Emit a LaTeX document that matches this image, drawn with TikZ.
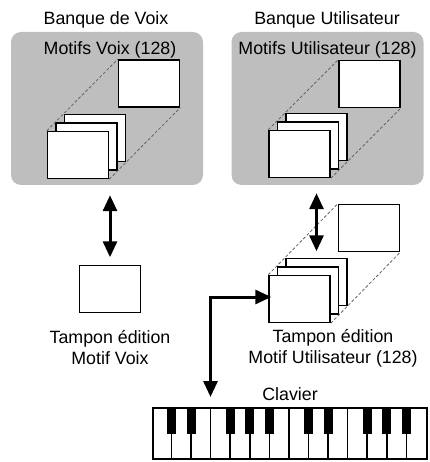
\documentclass[tikz,border=0pt]{standalone}
\usepackage{fontspec}
\setmainfont{Liberation Sans}
\usetikzlibrary{arrows.meta}
\definecolor{bankgray}{RGB}{190,190,190}
\definecolor{dashgray}{RGB}{100,100,100}

\begin{document}
\begin{tikzpicture}[x=1pt,y=-1pt,
	bank/.style={fill=bankgray, rounded corners=10pt, minimum width=192pt, minimum height=153pt, inner sep=0pt},
	motif/.style={draw, line width=1.5pt, fill=white, minimum width=61pt, minimum height=47pt, inner sep=0pt},
	guide/.style={dashgray, dash pattern=on 3pt off 2pt, line width=0.8pt},
	label/.style={font=\fontsize{17.8}{21}\selectfont, inner sep=0pt, anchor=base, align=center},
	bigarrow/.style={line width=3pt, {Triangle[length=16pt,width=14pt]}-{Triangle[length=16pt,width=14pt]}}]
	\useasboundingbox (0,0) rectangle (429,462);
	% banks
	\node[bank] (bankV) at (107,108.5) {};
	\node[bank] (bankU) at (327.5,108.5) {};
	\node[label] (titleV) at (106,25) {Banque de Voix};
	\node[label] (titleU) at (327,25) {Banque Utilisateur};
	\node[label] (motifsV) at (110,55) {Motifs Voix (128)};
	\node[label] (motifsU) at (327.5,55) {Motifs Utilisateur (128)};
	% voice patterns
	\node[motif] (singleV) at (149,83.5) {};
	\node[motif] (stackV3) at (95,138) {};
	\node[motif] (stackV2) at (86.5,146.5) {};
	\node[motif] (stackV1) at (78,155) {};
	\draw[guide] (stackV1.north west) -- (singleV.north west);
	\draw[guide] (stackV1.south east) -- (singleV.south east);
	% user patterns
	\node[motif] (singleU) at (369.5,84) {};
	\node[motif] (stackU3) at (316.5,137) {};
	\node[motif] (stackU2) at (308,145.5) {};
	\node[motif] (stackU1) at (299.5,154) {};
	\draw[guide] (stackU1.north west) -- (singleU.north west);
	\draw[guide] (stackU1.south east) -- (singleU.south east);
	% edit buffers
	\node[motif] (tamponV) at (110,289) {};
	\node[label, anchor=center] (tamponVtext) at (110,348) {Tampon édition\\Motif Voix};
	\node[motif] (tamponUs) at (369,228) {};
	\node[motif] (tamponU3) at (316.5,282) {};
	\node[motif] (tamponU2) at (308,290.5) {};
	\node[motif] (tamponU1) at (299.5,299) {};
	\draw[guide] (tamponU1.north west) -- (tamponUs.north west);
	\draw[guide] (tamponU1.south east) -- (tamponUs.south east);
	\node[label, anchor=center] (tamponUtext) at (333,348) {Tampon édition\\Motif Utilisateur (128)};
	% keyboard
	\node[label] (clavier) at (290,400) {Clavier};
	\node[draw, line width=2.2pt, minimum width=274pt, minimum height=51pt, inner sep=0pt] (kbd) at (290,433.5) {};
	\foreach \k in {1,...,13}
		\draw[line width=1.5pt] ([xshift={\k*19.571pt}]kbd.north west) -- ([xshift={\k*19.571pt}]kbd.south west);
	\foreach \k in {1,2,4,5,6,8,9,11,12,13}
		\fill ([xshift={\k*19.571pt-4.5pt}]kbd.north west) rectangle ([xshift={\k*19.571pt+4.5pt},yshift=-27pt]kbd.north west);
	% arrows
	\coordinate (kbdin) at (210.5,397);
	\draw[bigarrow, shorten <=10pt, shorten >=7.5pt] (tamponV.north |- bankV.south) -- (tamponV.north);
	\draw[bigarrow, shorten <=8pt, shorten >=6.5pt] (tamponU3.north |- bankU.south) -- (tamponU3.north);
	\draw[bigarrow, shorten <=-3pt] ([yshift=2pt]tamponU1.west) -| (kbdin);
\end{tikzpicture}
\end{document}
